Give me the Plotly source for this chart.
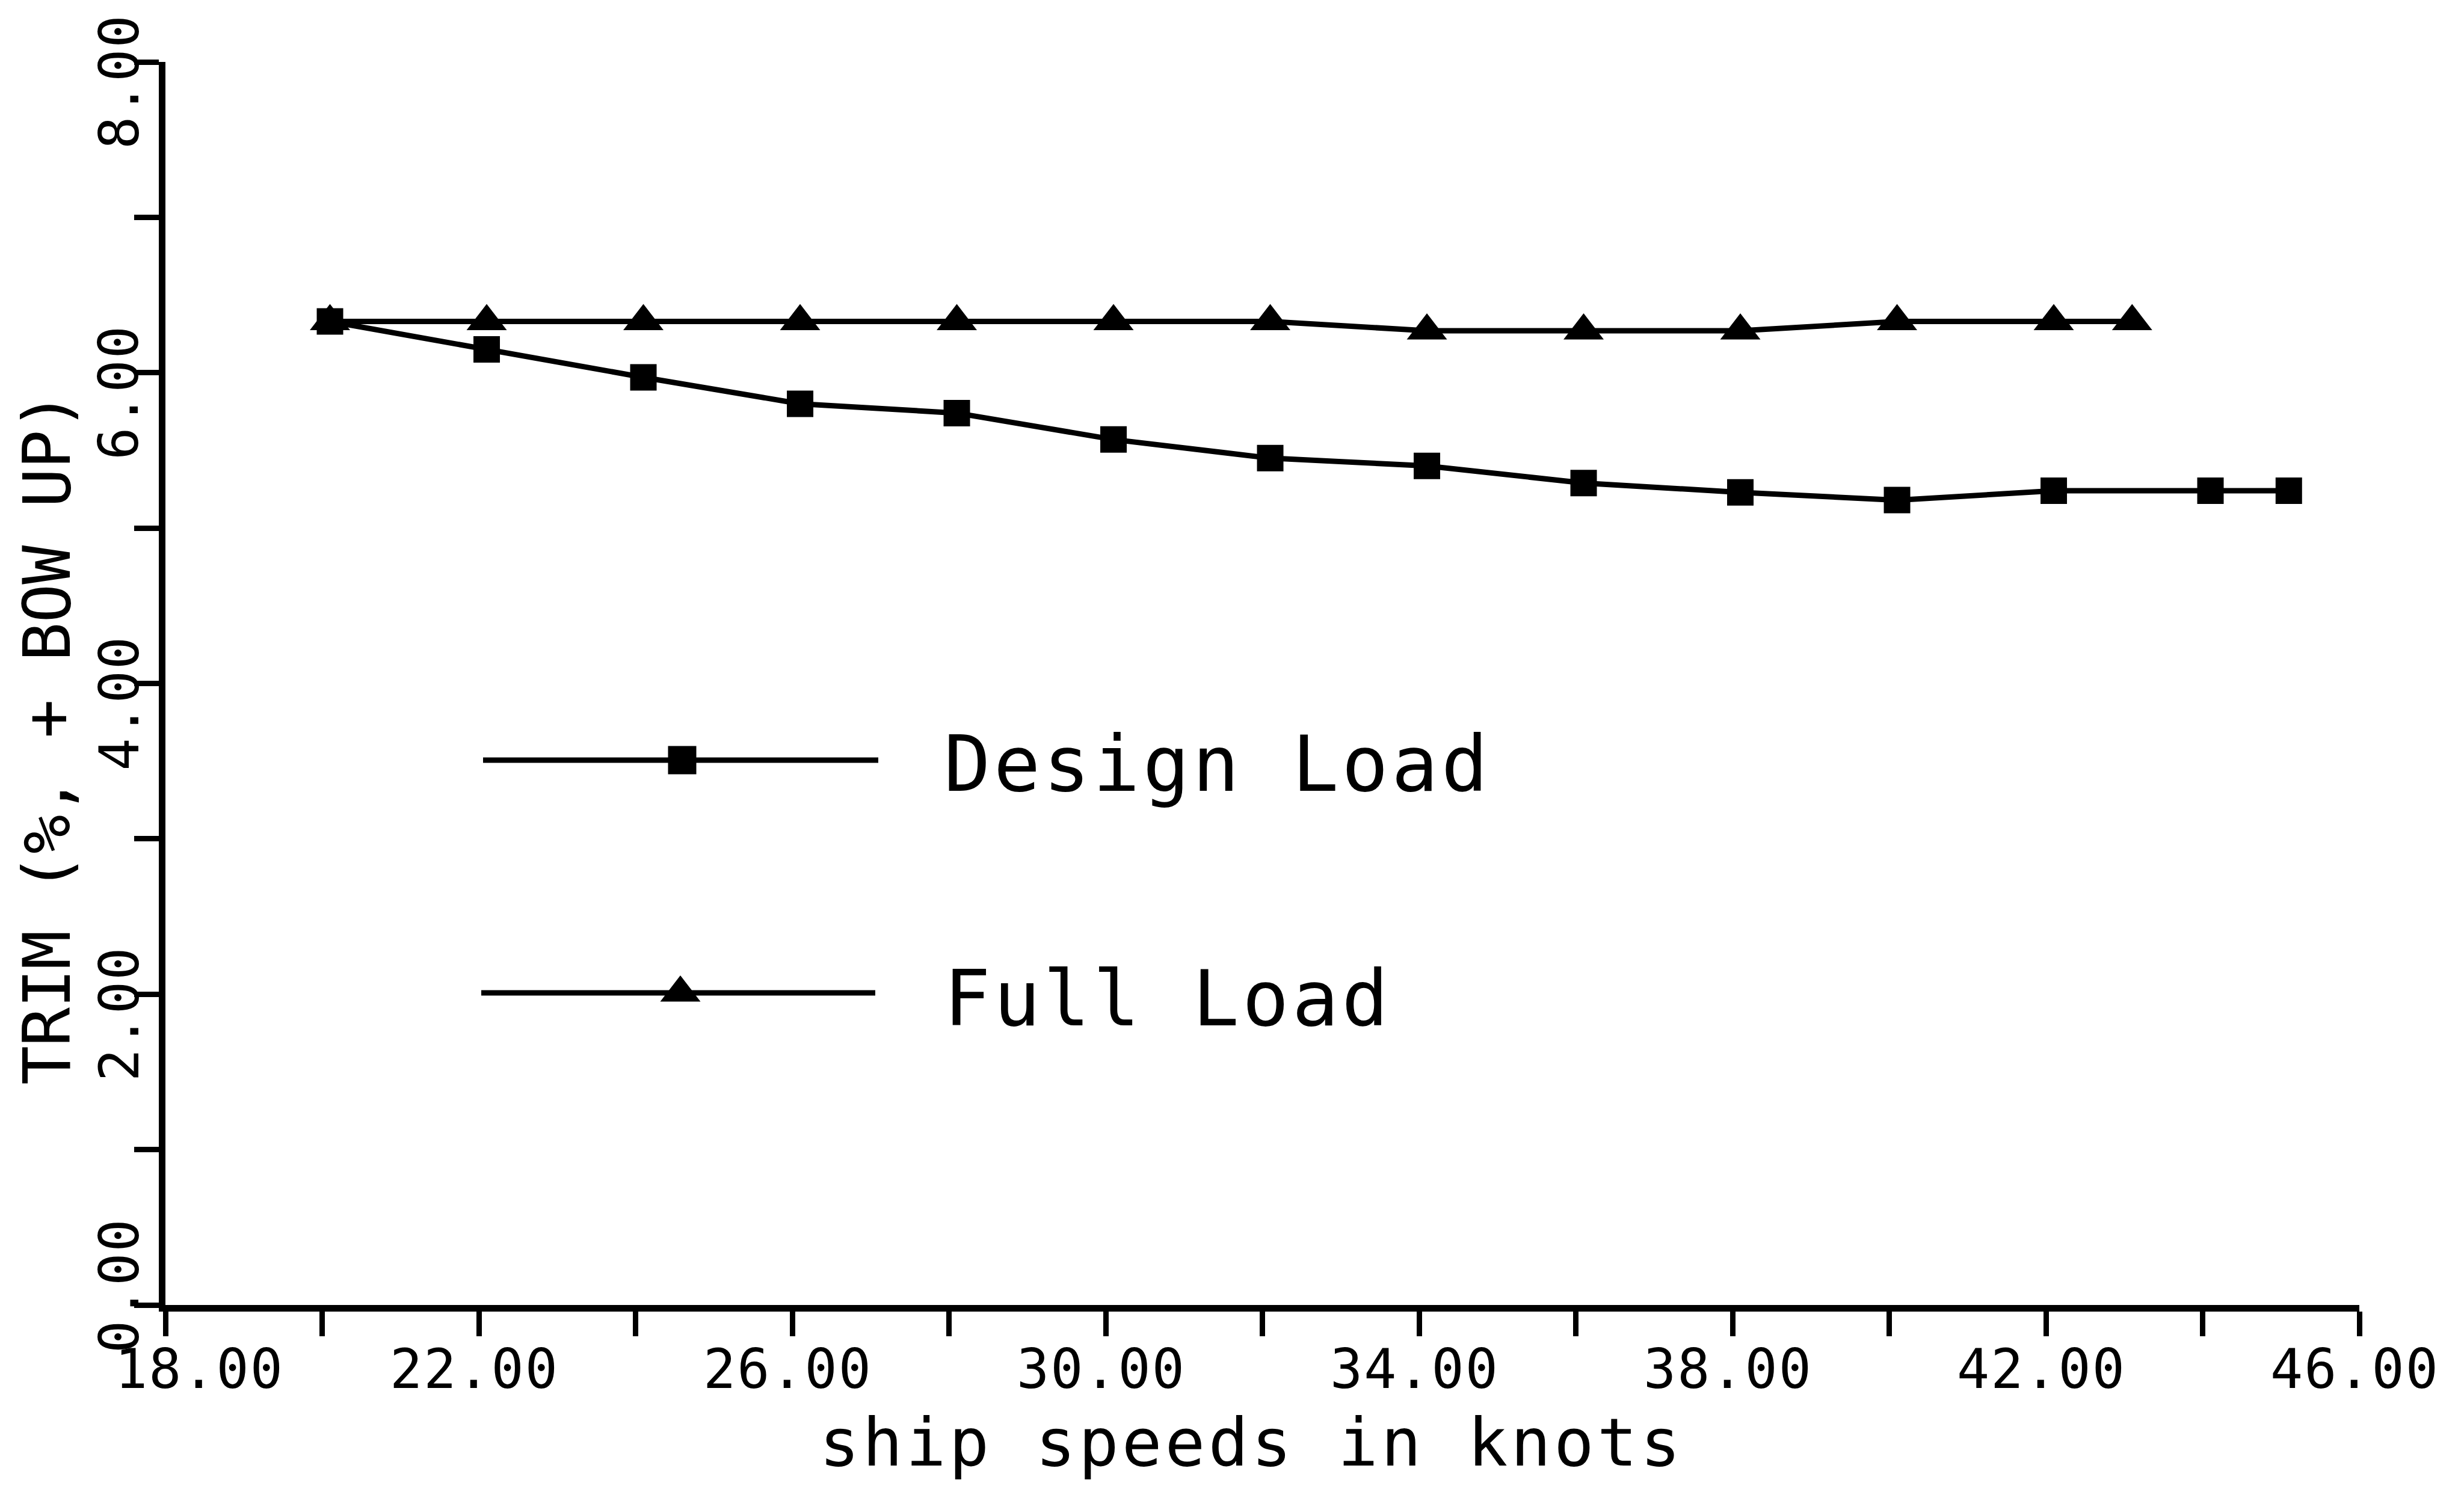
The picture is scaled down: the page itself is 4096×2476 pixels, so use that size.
import plotly.graph_objects as go

# ---------------- data ----------------
speed_design = [20.1, 22.1, 24.1, 26.1, 28.1, 30.1, 32.1, 34.1, 36.1, 38.1, 40.1, 42.1, 44.1, 45.1]
trim_design = [6.33, 6.15, 5.97, 5.80, 5.74, 5.57, 5.45, 5.40, 5.29, 5.23, 5.18, 5.24, 5.24, 5.24]

speed_full = [20.1, 22.1, 24.1, 26.1, 28.1, 30.1, 32.1, 34.1, 36.1, 38.1, 40.1, 42.1, 43.1]
trim_full = [6.33, 6.33, 6.33, 6.33, 6.33, 6.33, 6.33, 6.27, 6.27, 6.27, 6.33, 6.33, 6.33]

series_names = ["Design Load", "Full Load"]

x_tick_vals = [18, 22, 26, 30, 34, 38, 42, 46]
x_tick_text = ["18.00", "22.00", "26.00", "30.00", "34.00", "38.00", "42.00", "46.00"]
y_tick_vals = [0, 2, 4, 6, 8]
y_tick_text = ["0.00", "2.00", "4.00", "6.00", "8.00"]

x_title = "ship speeds in knots"
y_title = "TRIM (%, + BOW UP)"

# ---------------- geometry / style ----------------
W, H = 4096, 2476
L, R, T, B = 275, 174, 103, 306
PW = W - L - R
PH = H - T - B
FONT = "DejaVu Sans Mono"
INK = "black"
LINE_W = 9


def xp(px):
    return (px - L) / PW


def yp(py):
    return (T + PH - py) / PH


def spaced(text, sp):
    return f'<span style="letter-spacing:{sp}px">{text}</span>'


fig = go.Figure()

fig.add_trace(go.Scatter(
    x=speed_design, y=trim_design, mode="lines+markers", name=series_names[0],
    line=dict(color=INK, width=LINE_W),
    marker=dict(symbol="square", size=44, color=INK, line=dict(width=0)),
    showlegend=False, cliponaxis=False,
))
fig.add_trace(go.Scatter(
    x=speed_full, y=trim_full, mode="lines+markers", name=series_names[1],
    line=dict(color=INK, width=LINE_W),
    marker=dict(symbol="triangle-up", size=58, color=INK, line=dict(width=0)),
    showlegend=False, cliponaxis=False,
))

# legend keys drawn on a hidden overlay axis (paper-like 0..1 coordinates)
legend_rows = [
    (series_names[0], "square", 47, 803, 1460, 1264, 1134, 1270),
    (series_names[1], "triangle-up", 58, 800, 1455, 1651, 1131, 1660),
]
annotations = []
for name, sym, msize, lx0, lx1, ly, mx, ty in legend_rows:
    fig.add_trace(go.Scatter(
        x=[xp(lx0), xp(lx1)], y=[yp(ly), yp(ly)], mode="lines",
        line=dict(color=INK, width=LINE_W), xaxis="x2", yaxis="y2",
        showlegend=False, hoverinfo="skip",
    ))
    fig.add_trace(go.Scatter(
        x=[xp(mx)], y=[yp(ly)], mode="markers",
        marker=dict(symbol=sym, size=msize, color=INK, line=dict(width=0)),
        xaxis="x2", yaxis="y2", showlegend=False, hoverinfo="skip",
    ))
    annotations.append(dict(
        text=spaced(name, 5), x=xp(1567), y=yp(ty), xref="paper", yref="paper",
        xanchor="left", yanchor="middle", showarrow=False,
        font=dict(family=FONT, size=129, color=INK),
    ))

# tick labels
for v, t in zip(x_tick_vals, x_tick_text):
    annotations.append(dict(
        text=spaced(t, 2), x=v, xref="x", y=0, yref="paper",
        xanchor="center", yanchor="middle", showarrow=False,
        xshift=56 if v == 18 else -8, yshift=-106,
        font=dict(family=FONT, size=90, color=INK),
    ))
for v, t in zip(y_tick_vals, y_tick_text):
    annotations.append(dict(
        text=spaced(t, 2), x=0, xref="paper", y=v, yref="y",
        xanchor="center", yanchor="middle", showarrow=False, textangle=-90,
        xshift=-77, yshift=32 if v == 0 else -33,
        font=dict(family=FONT, size=90, color=INK),
    ))

# axis titles
annotations.append(dict(
    text=spaced(x_title, 5), x=0.5, xref="paper", y=0, yref="paper",
    xanchor="center", yanchor="middle", showarrow=False,
    xshift=-18, yshift=-228,
    font=dict(family=FONT, size=111, color=INK),
))
annotations.append(dict(
    text=spaced(y_title, -1), x=0, xref="paper", y=yp(1228), yref="paper",
    xanchor="center", yanchor="middle", showarrow=False, textangle=-90,
    xshift=-197,
    font=dict(family=FONT, size=108, color=INK),
))

axis_common = dict(
    showgrid=False, zeroline=False, showline=True, linecolor=INK, linewidth=11,
    ticks="outside", ticklen=41, tickwidth=9, tickcolor=INK,
    showticklabels=False, tickmode="linear", fixedrange=True,
)

fig.update_layout(
    width=W, height=H,
    margin=dict(l=L, r=R, t=T, b=B, pad=0),
    paper_bgcolor="white", plot_bgcolor="white",
    xaxis=dict(range=[18, 46], tick0=18, dtick=2, **axis_common),
    yaxis=dict(range=[0, 8], tick0=0, dtick=1, **axis_common),
    xaxis2=dict(overlaying="x", range=[0, 1], visible=False, fixedrange=True),
    yaxis2=dict(overlaying="y", range=[0, 1], visible=False, fixedrange=True),
    annotations=annotations,
    showlegend=False,
    font=dict(family=FONT, color=INK),
)

fig.write_html("out.html")
